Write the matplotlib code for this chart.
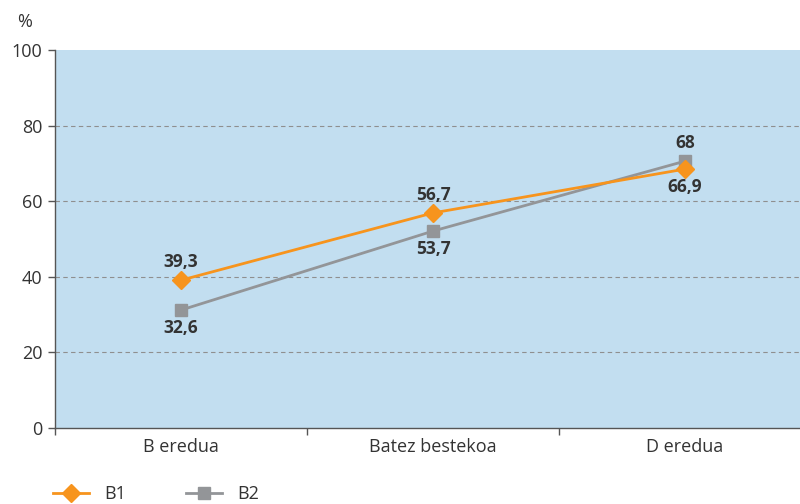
import matplotlib
matplotlib.use("Agg")
import matplotlib.pyplot as plt
from matplotlib.lines import Line2D

categories = ["B eredua", "Batez bestekoa", "D eredua"]
b1_values = [39.1, 56.9, 68.5]
b2_values = [31.2, 52.1, 70.6]
b1_labels = ["39,3", "56,7", "66,9"]
b2_labels = ["32,6", "53,7", "68"]
y_ticks = [0, 20, 40, 60, 80, 100]

plt.rcParams['font.family'] = ['Open Sans', 'DejaVu Sans']

orange = "#F7941D"
grey = "#939598"
bg = "#C2DEF0"
txt = "#333333"

fig = plt.figure(figsize=(8, 5.04), dpi=100)
W, H = 800, 504
left, right, top, bottom = 55, 811, 50, 428
ax = fig.add_axes([left / W, 1 - bottom / H, (right - left) / W, (bottom - top) / H])
ax.set_facecolor(bg)
ax.set_xlim(-0.5, 2.5)
ax.set_ylim(0, 100)

x = list(range(len(categories)))
ax.plot(x, b1_values, color=orange, lw=2, marker="D", ms=9, mec=orange, mfc=orange, zorder=4)
ax.plot(x, b2_values, color=grey, lw=2, marker="s", ms=8, mec=grey, mfc=grey, zorder=3)

# label positions: above (+) or below (-)
b1_pos = [1, 1, -1]
b2_pos = [-1, -1, 1]
for vals, labs, poss in ((b1_values, b1_labels, b1_pos), (b2_values, b2_labels, b2_pos)):
    for xi, v, lab, p in zip(x, vals, labs, poss):
        ax.annotate(lab, (xi, v), xytext=(0, 6.5 * p), textcoords="offset points",
                    ha="center", va="bottom" if p > 0 else "top", fontsize=12.5,
                    fontweight="bold", color=txt, zorder=5)

ax.set_yticks(y_ticks)
ax.set_yticklabels([str(t) for t in y_ticks], fontsize=13, color=txt)
for t in y_ticks[1:-1]:
    ax.axhline(t, color="#8f8f8f", lw=0.8, ls=(0, (4, 3)), zorder=1)

ax.set_xticks(x)
ax.set_xticklabels(categories, fontsize=13, color=txt)
ax.set_xticks([-0.5, 0.5, 1.5, 2.5], minor=True)
ax.tick_params(axis="x", which="major", length=0, pad=7)
ax.tick_params(axis="x", which="minor", length=5, color="#555555", width=1)
ax.tick_params(axis="y", length=5, color="#555555", width=1, pad=4)

for s in ["top", "right"]:
    ax.spines[s].set_visible(False)
for s in ["left", "bottom"]:
    ax.spines[s].set_color("#555555")
    ax.spines[s].set_linewidth(1)

fig.text(25 / W, 1 - 22 / H, "%", fontsize=13, color=txt, ha="center", va="center")

handles = [
    Line2D([], [], color=orange, lw=2, marker="D", ms=9, mfc=orange, mec=orange),
    Line2D([], [], color=grey, lw=2, marker="s", ms=8, mfc=grey, mec=grey),
]
fig.legend(handles, ["B1", "B2"], loc="center left", bbox_to_anchor=(37 / W, 1 - 494 / H),
           ncol=2, frameon=False, fontsize=13, handlelength=2.0, columnspacing=3.3,
           handletextpad=0.85, labelcolor=txt)

fig.savefig("out.png", dpi=100)
